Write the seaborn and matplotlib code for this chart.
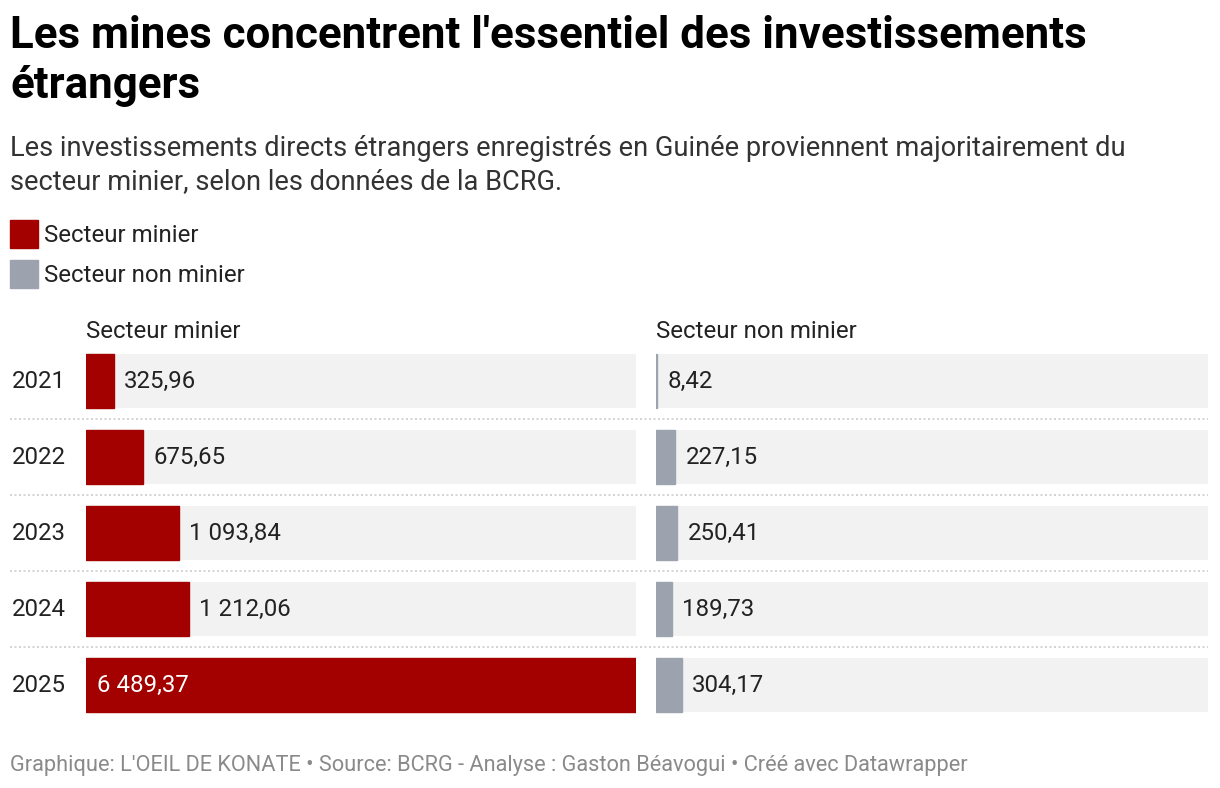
import matplotlib
matplotlib.use("Agg")
import matplotlib.pyplot as plt
import seaborn as sns
import pandas as pd
from matplotlib.lines import Line2D
from matplotlib.patches import Rectangle

# data (millions, from BCRG)
years = ["2021", "2022", "2023", "2024", "2025"]
minier = [325.96, 675.65, 1093.84, 1212.06, 6489.37]
non_minier = [8.42, 227.15, 250.41, 189.73, 304.17]

series_names = ["Secteur minier", "Secteur non minier"]
colors = ["#a30000", "#9ca3af"]
bg_color = "#f2f2f2"

title_lines = ["Les mines concentrent l'essentiel des investissements", "étrangers"]
subtitle_lines = [
    "Les investissements directs étrangers enregistrés en Guinée proviennent majoritairement du",
    "secteur minier, selon les données de la BCRG.",
]
footer = "Graphique: L'OEIL DE KONATE • Source: BCRG - Analyse : Gaston Béavogui • Créé avec Datawrapper"

df = pd.DataFrame({"year": years, "minier": minier, "non_minier": non_minier})

sns.set_theme(style="white")
plt.rcParams["font.family"] = ["Roboto", "DejaVu Sans"]

W, H = 1220, 788
fig = plt.figure(figsize=(W / 100, H / 100), dpi=100)

LBL = 17.3  # label font size


def fx(px):
    return px / W


def fy(py):
    return 1 - py / H


def fmt(v):
    s = f"{v:,.2f}"
    return s.replace(",", " ").replace(".", ",")


# titles
fig.text(fx(10), fy(36), title_lines[0], fontsize=31.6, fontweight="bold", color="#000000", va="center")
fig.text(fx(10), fy(86), title_lines[1], fontsize=31.6, fontweight="bold", color="#000000", va="center")
fig.text(fx(10), fy(148), subtitle_lines[0], fontsize=19.6, color="#333333", va="center")
fig.text(fx(10), fy(182), subtitle_lines[1], fontsize=19.6, color="#333333", va="center")

# legend
for k, (name, c) in enumerate(zip(series_names, colors)):
    yc = 234 + 40 * k
    fig.patches.append(Rectangle((fx(10), fy(yc + 14)), fx(28), 28 / H,
                                 transform=fig.transFigure, color=c, figure=fig))
    fig.text(fx(44), fy(yc + 1.5), name, fontsize=LBL, color="#222222", va="center")

# bar panels
vmax = max(max(minier), max(non_minier))
row_h = 76
top = 343
n = len(years)
panels = [(86, 550, "minier"), (656, 552, "non_minier")]
for k, (x0, w, col) in enumerate(panels):
    ax = fig.add_axes([fx(x0), fy(top + row_h * n), fx(w), row_h * n / H])
    scale = vmax * w / 550
    sns.barplot(x=[scale] * n, y=years, orient="h", color=bg_color, width=54 / 76,
                ax=ax, saturation=1, linewidth=0)
    sns.barplot(data=df, x=col, y="year", orient="h", color=colors[k], width=54 / 76,
                ax=ax, saturation=1, linewidth=1.0, edgecolor=colors[k])
    ax.set_xlim(0, scale)
    ax.set_ylim(n - 0.5, -0.5)
    ax.axis("off")
    for i, v in enumerate(df[col]):
        if v / vmax > 0.5:
            ax.annotate(fmt(v), (0, i), xytext=(8, 0), textcoords="offset points",
                        va="center", ha="left", fontsize=LBL, color="white")
        else:
            ax.annotate(fmt(v), (v, i), xytext=(7.5, 0), textcoords="offset points",
                        va="center", ha="left", fontsize=LBL, color="#222222")
    fig.text(fx(x0), fy(331.5), series_names[k], fontsize=LBL, color="#222222", va="center")

# year labels and separators
for i, y in enumerate(years):
    fig.text(fx(12), fy(top + row_h * i + row_h / 2), y, fontsize=LBL, color="#222222", va="center")
    if i > 0:
        yy = fy(top + row_h * i)
        fig.add_artist(Line2D([fx(10), fx(1208)], [yy, yy], transform=fig.transFigure,
                              color="#cccccc", lw=1.2, ls=(0, (1.2, 1.5))))

fig.text(fx(10), fy(765), footer, fontsize=15.65, color="#8a8a8a", va="center")

fig.savefig("out.png", dpi=100, facecolor="white")
